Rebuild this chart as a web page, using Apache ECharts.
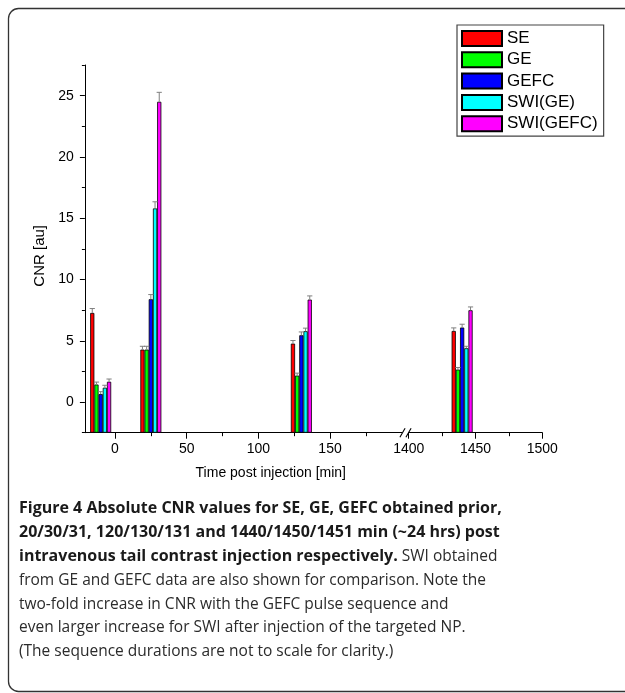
<!DOCTYPE html>
<html>
<head>
<meta charset="utf-8">
<script src="https://cdn.jsdelivr.net/npm/echarts@6/dist/echarts.min.js"></script>
<style>
html, body { margin: 0; padding: 0; background: #fff; }
#chart { width: 625px; height: 693px; }
</style>
</head>
<body>
<div id="chart"></div>
<script>
// bar groups, time post injection [min]
var timePoints = [-10, 25, 130, 1440];
var seriesNames = ['SE', 'GE', 'GEFC', 'SWI(GE)', 'SWI(GEFC)'];
var colors = ['#ff0000', '#00ff00', '#0000ff', '#00ffff', '#ff00ff'];

// CNR [au] per series, one value per time point
var cnrSE = [7.27, 4.28, 4.77, 5.80];
var cnrGE = [1.43, 4.28, 2.16, 2.65];
var cnrGEFC = [0.65, 8.39, 5.45, 6.08];
var cnrSwiGE = [1.17, 15.80, 5.78, 4.39];
var cnrSwiGEFC = [1.66, 24.50, 8.36, 7.49];

// upper error bars
var errSE = [0.36, 0.27, 0.25, 0.25];
var errGE = [0.20, 0.27, 0.20, 0.17];
var errGEFC = [0.20, 0.38, 0.27, 0.27];
var errSwiGE = [0.20, 0.54, 0.25, 0.16];
var errSwiGEFC = [0.22, 0.77, 0.30, 0.27];

// broken x axis: two pieces
var xSegments = [[-21, 200], [1400, 1500]];
var xMajorTicks = [0, 50, 100, 150, 1400, 1450, 1500];
var xMinorTicks = [25, 75, 125, 175, 1425, 1475];
var yRange = [-2.5, 27.5];
var yMajorTicks = [0, 5, 10, 15, 20, 25];
var yMinorTicks = [-2.5, 2.5, 7.5, 12.5, 17.5, 22.5, 27.5];

var captionLines = [
    ['Figure 4 Absolute CNR values for SE, GE, GEFC obtained prior,', ''],
    ['20/30/31, 120/130/131 and 1440/1450/1451 min (~24 hrs) post', ''],
    ['intravenous tail contrast injection respectively.', ' SWI obtained'],
    ['', 'from GE and GEFC data are also shown for comparison. Note the'],
    ['', 'two-fold increase in CNR with the GEFC pulse sequence and'],
    ['', 'even larger increase for SWI after injection of the targeted NP.'],
    ['', '(The sequence durations are not to scale for clarity.)']
];

var cnr = [cnrSE, cnrGE, cnrGEFC, cnrSwiGE, cnrSwiGEFC];
var err = [errSE, errGE, errGEFC, errSwiGE, errSwiGEFC];

var BAR_W = 4.2;
var FONT = 'Liberation Sans, Arial, sans-serif';

function inSeg(v, seg) { return v >= seg[0] && v <= seg[1]; }
function plain(v) { return String(v); }

var gridPos = [
    { left: 84.9, top: 65, width: 316.8, height: 367.7 },
    { left: 408.7, top: 65, width: 133.6, height: 367.7 }
];

var grids = [], xAxes = [], yAxes = [], series = [];

xSegments.forEach(function (seg, g) {
    grids.push({
        left: gridPos[g].left, top: gridPos[g].top,
        width: gridPos[g].width, height: gridPos[g].height,
        containLabel: false, outerBoundsMode: 'none'
    });
    var major = xMajorTicks.filter(function (v) { return inSeg(v, seg); });
    var minor = xMinorTicks.filter(function (v) { return inSeg(v, seg); });
    // main x axis: line, labels, long ticks
    xAxes.push({
        type: 'value', gridIndex: g, position: 'bottom',
        min: seg[0], max: seg[1],
        axisLine: { show: true, onZero: false, lineStyle: { color: '#000', width: 1 } },
        axisTick: { show: true, inside: false, length: 6, customValues: major, lineStyle: { color: '#000' } },
        axisLabel: { show: true, customValues: major, formatter: plain, margin: 9, color: '#000', fontSize: 14, fontFamily: FONT },
        splitLine: { show: false },
        name: g === 0 ? 'Time post injection [min]' : '',
        nameLocation: 'middle', nameGap: 33,
        nameTextStyle: { fontSize: 14, color: '#000', fontFamily: FONT, padding: [0, 0, 0, 55] }
    });
    // short ticks
    xAxes.push({
        type: 'value', gridIndex: g, position: 'bottom',
        min: seg[0], max: seg[1],
        axisLine: { show: false, onZero: false },
        axisTick: { show: true, inside: false, length: 3.5, customValues: minor, lineStyle: { color: '#000' } },
        axisLabel: { show: false },
        splitLine: { show: false }
    });
});

yAxes.push({
    type: 'value', gridIndex: 0, position: 'left',
    min: yRange[0], max: yRange[1], startValue: yRange[0],
    axisLine: { show: true, onZero: false, lineStyle: { color: '#000', width: 1 } },
    axisTick: { show: true, inside: false, length: 5, customValues: yMajorTicks, lineStyle: { color: '#000' } },
    axisLabel: { show: true, customValues: yMajorTicks, formatter: plain, margin: 11, color: '#000', fontSize: 14, fontFamily: FONT },
    splitLine: { show: false },
    name: 'CNR [au]', nameLocation: 'middle', nameGap: 33, nameRotate: 90,
    nameTextStyle: { fontSize: 15, color: '#000', fontFamily: FONT, padding: [0, 14, 0, 0] }
});
yAxes.push({
    type: 'value', gridIndex: 0, position: 'left',
    min: yRange[0], max: yRange[1],
    axisLine: { show: false, onZero: false },
    axisTick: { show: true, inside: false, length: 3, customValues: yMinorTicks, lineStyle: { color: '#000' } },
    axisLabel: { show: false },
    splitLine: { show: false }
});
yAxes.push({
    type: 'value', gridIndex: 1, position: 'left',
    min: yRange[0], max: yRange[1], startValue: yRange[0],
    axisLine: { show: false, onZero: false },
    axisTick: { show: false }, axisLabel: { show: false },
    splitLine: { show: false }
});

function renderErr(params, api) {
    var x = api.value(0), top = api.value(1), e = api.value(2), k = api.value(3);
    var base = api.coord([x, top]);
    var tip = api.coord([x, top + e]);
    var cx = base[0] + (k - 2) * BAR_W;
    var half = BAR_W / 2 + 0.5;
    var st = { stroke: '#7f7f7f', lineWidth: 1 };
    return {
        type: 'group',
        children: [
            { type: 'line', shape: { x1: cx, y1: base[1], x2: cx, y2: tip[1] }, style: st },
            { type: 'line', shape: { x1: cx - half, y1: tip[1], x2: cx + half, y2: tip[1] }, style: st }
        ]
    };
}

xSegments.forEach(function (seg, g) {
    var xi = g * 2, yi = g === 0 ? 0 : 2;
    var errData = [];
    seriesNames.forEach(function (name, k) {
        var data = [];
        timePoints.forEach(function (t, j) {
            if (inSeg(t, seg)) {
                data.push([t, cnr[k][j]]);
                errData.push([t, cnr[k][j], err[k][j], k]);
            }
        });
        series.push({
            name: name, type: 'bar',
            xAxisIndex: xi, yAxisIndex: yi,
            barWidth: BAR_W, barGap: '0%',
            itemStyle: { color: colors[k], borderColor: '#000', borderWidth: 0.8 },
            emphasis: { disabled: true },
            data: data
        });
    });
    series.push({
        type: 'custom', xAxisIndex: xi, yAxisIndex: yi,
        renderItem: renderErr, z: 5, silent: true,
        data: errData
    });
});

var rich = {
    b: { fontFamily: 'Open Sans', fontWeight: 'bold', fontSize: 16, color: '#1a1a1a', lineHeight: 23.8 },
    r: { fontFamily: 'Open Sans', fontWeight: 'normal', fontSize: 15.5, color: '#2b2b2b', lineHeight: 23.8 }
};
var captionText = captionLines.map(function (l) {
    var s = '';
    if (l[0]) s += '{b|' + l[0] + '}';
    if (l[1]) s += '{r|' + l[1] + '}';
    return s;
}).join('\n');

var option = {
    backgroundColor: '#fff',
    animation: false,
    title: {
        text: captionText,
        left: 19, top: 497, padding: 0,
        textStyle: { rich: rich, lineHeight: 23.8 }
    },
    legend: {
        data: seriesNames,
        orient: 'vertical',
        left: 457, top: 25,
        padding: [5, 6, 4, 4],
        itemWidth: 40, itemHeight: 15, itemGap: 4.3,
        icon: 'rect',
        borderColor: '#444', borderWidth: 1.2,
        backgroundColor: '#fff',
        textStyle: { fontSize: 17, color: '#000', fontFamily: FONT },
        selectedMode: false
    },
    grid: grids,
    xAxis: xAxes,
    yAxis: yAxes,
    series: series
};

var chart = echarts.init(document.getElementById('chart'));
chart.setOption(option);

// axis break marks and the rounded frame
var pL = chart.convertToPixel({ xAxisIndex: 0 }, xSegments[0][1]);
var pR = chart.convertToPixel({ xAxisIndex: 2 }, xSegments[1][0]);
var yB = chart.convertToPixel({ yAxisIndex: 0 }, yRange[0]);
var mid = (pL + pR) / 2;
var slash = { stroke: '#000', lineWidth: 1.1 };
chart.setOption({
    graphic: [
        { type: 'rect', shape: { x: 8.5, y: 8.5, width: 640, height: 683, r: 10 },
          style: { fill: null, stroke: '#333', lineWidth: 1.3 }, silent: true },
        { type: 'line', shape: { x1: mid - 5.3, y1: yB + 4.5, x2: mid - 0.1, y2: yB - 4.5 }, style: slash },
        { type: 'line', shape: { x1: mid + 0.7, y1: yB + 4.5, x2: mid + 5.9, y2: yB - 4.5 }, style: slash }
    ]
});
</script>
</body>
</html>
